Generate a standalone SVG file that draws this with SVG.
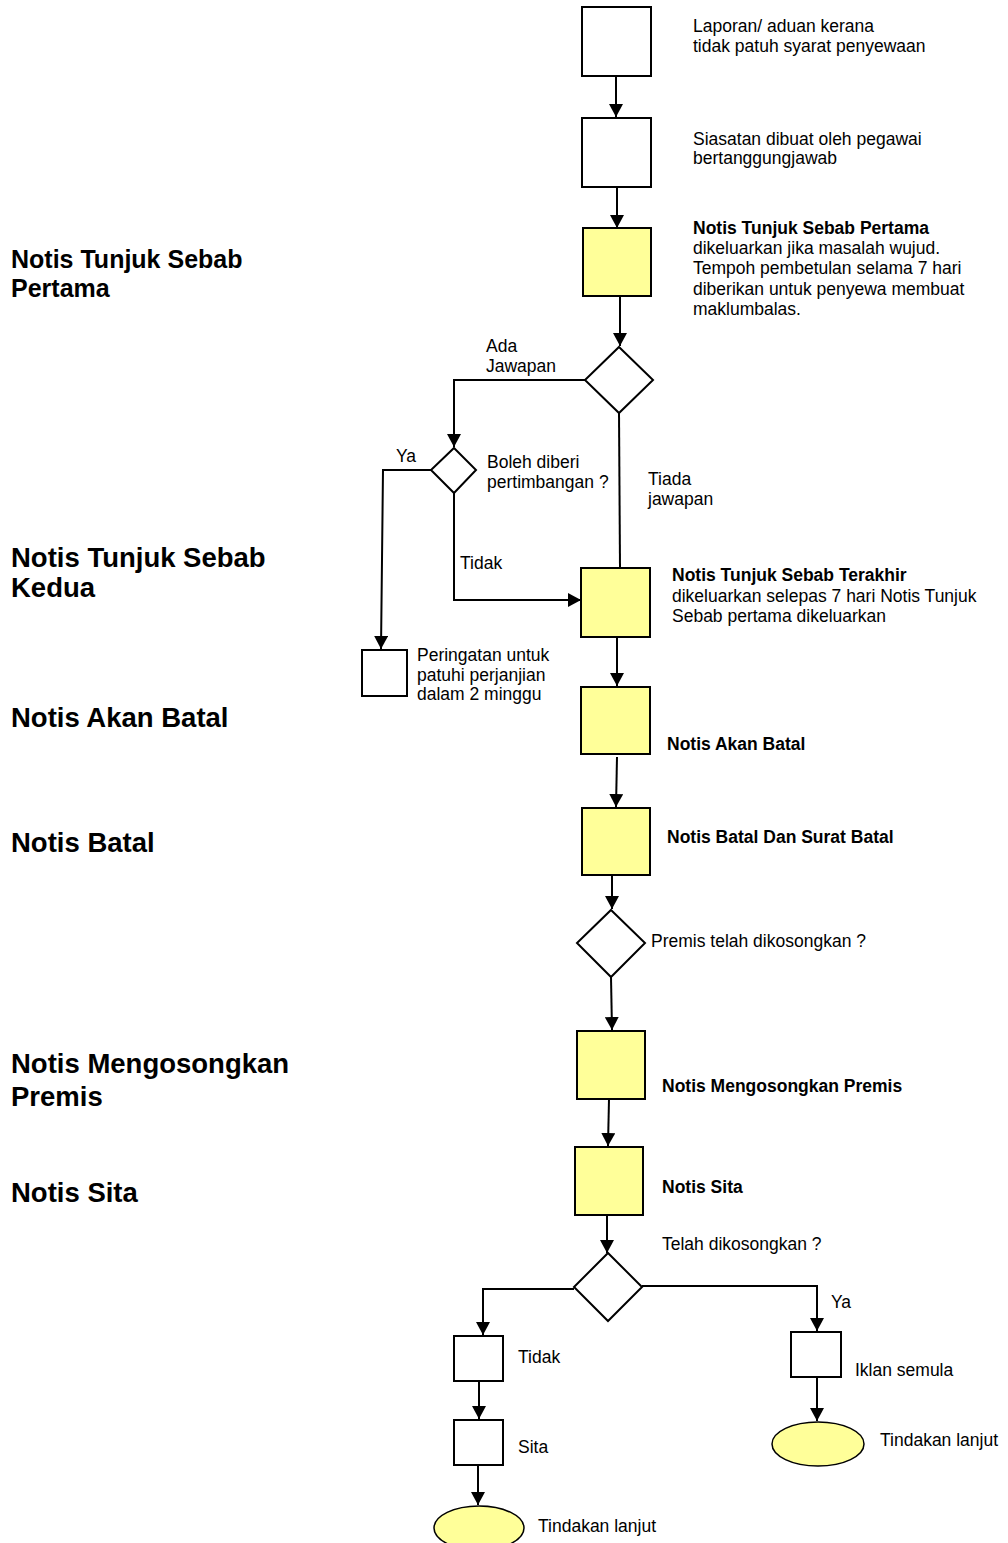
<svg xmlns="http://www.w3.org/2000/svg" width="1008" height="1543" viewBox="0 0 1008 1543">
<style>
.bg{fill:#ffffff}
.box{fill:#ffffff;stroke:#000;stroke-width:2}
.yel{fill:#FFFF99;stroke:#000;stroke-width:2}
.dia{fill:#ffffff;stroke:#000;stroke-width:2}
.conn{fill:none;stroke:#000;stroke-width:2}
.t{font-family:"Liberation Sans",Arial,sans-serif;font-size:17.5px;fill:#000}
.b{font-weight:bold}
.big{font-family:"Liberation Sans",Arial,sans-serif;font-size:27.5px;font-weight:bold;fill:#000}
</style>
<defs>
<marker id="arr" markerUnits="userSpaceOnUse" markerWidth="14" markerHeight="14" refX="13" refY="7" orient="auto">
<path d="M0,0 L13,7 L0,14 z" fill="#000"/>
</marker>
</defs>
<rect class="bg" x="0" y="0" width="1008" height="1543"/>

<g id="left-labels">
<text class="big" x="11" y="268" style="font-size:25px">Notis Tunjuk Sebab</text>
<text class="big" x="11" y="297" style="font-size:25px">Pertama</text>
<text class="big" x="11" y="567">Notis Tunjuk Sebab</text>
<text class="big" x="11" y="597">Kedua</text>
<text class="big" x="11" y="727">Notis Akan Batal</text>
<text class="big" x="11" y="852">Notis Batal</text>
<text class="big" x="11" y="1073">Notis Mengosongkan</text>
<text class="big" x="11" y="1106">Premis</text>
<text class="big" x="11" y="1202">Notis Sita</text>
</g>

<g id="connectors">
<path class="conn" d="M616,76 L616,117" marker-end="url(#arr)"/>
<path class="conn" d="M617,187 L617,228" marker-end="url(#arr)"/>
<path class="conn" d="M620,296 L620,346" marker-end="url(#arr)"/>
<path class="conn" d="M586,380 L454,380 L454,447" marker-end="url(#arr)"/>
<path class="conn" d="M619,413 L620,568"/>
<path class="conn" d="M431,470 L383,470 L381,649" marker-end="url(#arr)"/>
<path class="conn" d="M454,493 L454,600 L581,600" marker-end="url(#arr)"/>
<path class="conn" d="M617,637 L617,686" marker-end="url(#arr)"/>
<path class="conn" d="M617,757 L616,807" marker-end="url(#arr)"/>
<path class="conn" d="M612,875 L612,909" marker-end="url(#arr)"/>
<path class="conn" d="M611,977 L612,1030" marker-end="url(#arr)"/>
<path class="conn" d="M609,1099 L608,1146" marker-end="url(#arr)"/>
<path class="conn" d="M607,1215 L607,1253" marker-end="url(#arr)"/>
<path class="conn" d="M574,1289 L483,1289 L483,1335" marker-end="url(#arr)"/>
<path class="conn" d="M642,1286 L817,1286 L817,1331" marker-end="url(#arr)"/>
<path class="conn" d="M479,1381 L479,1419" marker-end="url(#arr)"/>
<path class="conn" d="M478,1465 L478,1505" marker-end="url(#arr)"/>
<path class="conn" d="M817,1377 L817,1421" marker-end="url(#arr)"/>
<text class="t" x="486" y="352">Ada</text>
<text class="t" x="486" y="372">Jawapan</text>
<text class="t" x="396" y="462">Ya</text>
<text class="t" x="648" y="485">Tiada</text>
<text class="t" x="648" y="505">jawapan</text>
<text class="t" x="460" y="569">Tidak</text>
<text class="t" x="831" y="1308">Ya</text>
</g>

<g id="n-laporan">
<rect class="box" x="582" y="7" width="69" height="69"/>
<text class="t" x="693" y="32">Laporan/ aduan kerana</text>
<text class="t" x="693" y="52">tidak patuh syarat penyewaan</text>
</g>
<g id="n-siasatan">
<rect class="box" x="582" y="118" width="69" height="69"/>
<text class="t" x="693" y="145">Siasatan dibuat oleh pegawai</text>
<text class="t" x="693" y="164">bertanggungjawab</text>
</g>
<g id="n-nts1">
<rect class="yel" x="583" y="228" width="68" height="68"/>
<text class="t b" x="693" y="234">Notis Tunjuk Sebab Pertama</text>
<text class="t" x="693" y="254">dikeluarkan jika masalah wujud.</text>
<text class="t" x="693" y="274">Tempoh pembetulan selama 7 hari</text>
<text class="t" x="693" y="295">diberikan untuk penyewa membuat</text>
<text class="t" x="693" y="315">maklumbalas.</text>
</g>
<g id="n-dec1">
<polygon class="dia" points="619,347 653,380 619,413 585,380"/>
</g>
<g id="n-dec2">
<polygon class="dia" points="454,448 476,470 454,493 431,470"/>
<text class="t" x="487" y="468">Boleh diberi</text>
<text class="t" x="487" y="488">pertimbangan ?</text>
</g>
<g id="n-peringatan">
<rect class="box" x="362" y="650" width="45" height="46"/>
<text class="t" x="417" y="661">Peringatan untuk</text>
<text class="t" x="417" y="681">patuhi perjanjian</text>
<text class="t" x="417" y="700">dalam 2 minggu</text>
</g>
<g id="n-nts2">
<rect class="yel" x="581" y="568" width="69" height="69"/>
<text class="t b" x="672" y="581">Notis Tunjuk Sebab Terakhir</text>
<text class="t" x="672" y="602">dikeluarkan selepas 7 hari Notis Tunjuk</text>
<text class="t" x="672" y="622">Sebab pertama dikeluarkan</text>
</g>
<g id="n-akanbatal">
<rect class="yel" x="581" y="687" width="69" height="67"/>
<text class="t b" x="667" y="750">Notis Akan Batal</text>
</g>
<g id="n-batal">
<rect class="yel" x="582" y="808" width="68" height="67"/>
<text class="t b" x="667" y="843">Notis Batal Dan Surat Batal</text>
</g>
<g id="n-dec3">
<polygon class="dia" points="611,910 645,943 611,977 577,943"/>
<text class="t" x="651" y="947">Premis telah dikosongkan ?</text>
</g>
<g id="n-mengosongkan">
<rect class="yel" x="577" y="1031" width="68" height="68"/>
<text class="t b" x="662" y="1092">Notis Mengosongkan Premis</text>
</g>
<g id="n-sita">
<rect class="yel" x="575" y="1147" width="68" height="68"/>
<text class="t b" x="662" y="1193">Notis Sita</text>
</g>
<g id="n-dec4">
<polygon class="dia" points="608,1253 642,1287 608,1321 574,1287"/>
<text class="t" x="662" y="1250">Telah dikosongkan ?</text>
</g>
<g id="n-tidak">
<rect class="box" x="454" y="1336" width="49" height="45"/>
<text class="t" x="518" y="1363">Tidak</text>
</g>
<g id="n-sita2">
<rect class="box" x="454" y="1420" width="49" height="45"/>
<text class="t" x="518" y="1453">Sita</text>
</g>
<g id="n-tindakan1">
<ellipse class="yel" cx="479" cy="1528" rx="45" ry="22" style="stroke-width:1.5"/>
<text class="t" x="538" y="1532">Tindakan lanjut</text>
</g>
<g id="n-iklan">
<rect class="box" x="791" y="1332" width="50" height="45"/>
<text class="t" x="855" y="1376">Iklan semula</text>
</g>
<g id="n-tindakan2">
<ellipse class="yel" cx="818" cy="1444" rx="46" ry="22" style="stroke-width:1.5"/>
<text class="t" x="880" y="1446">Tindakan lanjut</text>
</g>
</svg>
